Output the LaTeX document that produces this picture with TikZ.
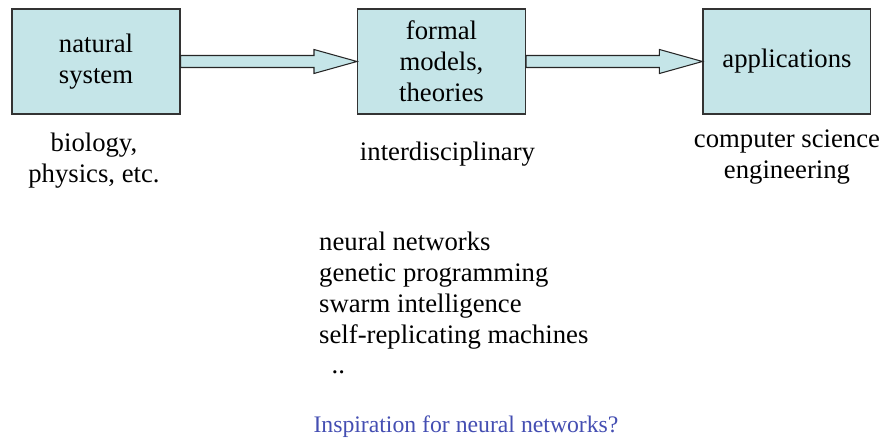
\documentclass[tikz,border=0pt]{standalone}
\usepackage{fontspec}
\setmainfont{Liberation Serif}
\usepackage{tikz}
\usetikzlibrary{positioning, calc}
\definecolor{boxcyan}{RGB}{197,229,232}
\definecolor{askblue}{RGB}{68,78,178}
\tikzset{
  % boxes of the chain
  stagebox/.style={draw=black!80, fill=boxcyan, line width=0.6pt, align=center,
    minimum width=3.36cm, minimum height=2.1cm, inner sep=1pt},
  % texts under the boxes (anchored on their last line)
  notetext/.style={align=center, anchor=base},
  listtext/.style={align=left, anchor=base west},
  % wide arrows
  fatpointer/.style={draw=black!85, fill=boxcyan, line width=0.6pt, line join=miter},
}

\begin{document}
\begin{tikzpicture}[x=0.02cm, y=-0.02cm, node distance=3.53cm,
    every node/.style={font=\fontsize{15.2}{17.6}\selectfont}]
  \useasboundingbox (0,0) rectangle (883,445);

  % the three stages
  \node[stagebox] (natsys) at (96,61.5) {natural\\system};
  \node[stagebox, right=of natsys] (models) {formal\\models,\\theories};
  \node[stagebox, right=of models] (apps) {applications};

  % wide arrows between them
  \draw[fatpointer] ($(natsys.east)+(0,-6)$) -- ($(models.west)+(-43,-6)$)
    -- ($(models.west)+(-43,-12)$) -- (models.west) -- ($(models.west)+(-43,12)$)
    -- ($(models.west)+(-43,6)$) -- ($(natsys.east)+(0,6)$) -- cycle;
  \draw[fatpointer] ($(models.east)+(0,-6)$) -- ($(apps.west)+(-43,-6)$)
    -- ($(apps.west)+(-43,-12)$) -- (apps.west) -- ($(apps.west)+(-43,12)$)
    -- ($(apps.west)+(-43,6)$) -- ($(models.east)+(0,6)$) -- cycle;

  % notes under the boxes
  \node[notetext] (natnote) at ($(natsys.south)+(-2,68)$) {biology,\\physics, etc.};
  \node[notetext] (modnote) at ($(models.south)+(6,46)$) {interdisciplinary};
  \node[notetext] (appnote) at ($(apps.south)+(0,64)$) {computer science\\engineering};

  % examples
  \node[listtext] (examples) at (313,374) {neural networks\\genetic programming\\swarm intelligence\\self-replicating machines\\\hspace{0.25cm}..};

  \node[notetext, text=askblue, font=\fontsize{13.5}{16}\selectfont] (question) at (466,433) {Inspiration for neural networks?};
\end{tikzpicture}
\end{document}
